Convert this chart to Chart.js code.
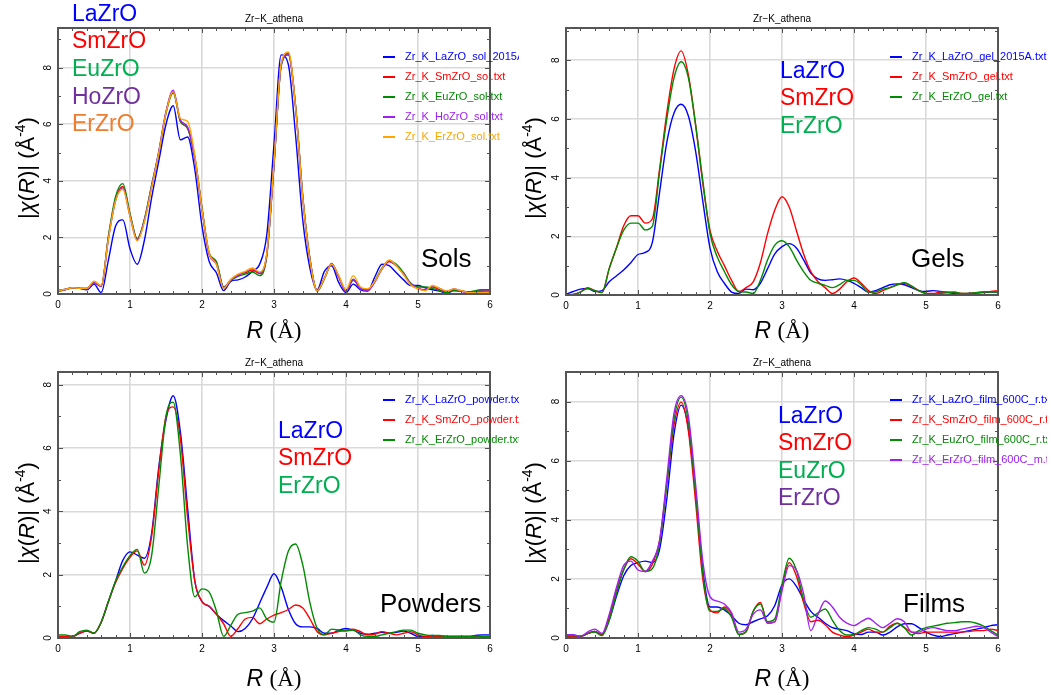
<!DOCTYPE html>
<html>
<head>
<meta charset="utf-8">
<script src="https://cdn.jsdelivr.net/npm/chart.js@4.4.1/dist/chart.umd.min.js"></script>
<style>
  html, body { margin:0; padding:0; background:#fff; }
  body { width:1051px; height:695px; position:relative; overflow:hidden; font-family:'Liberation Sans', Arial, sans-serif; }
  canvas { position:absolute; }
  .t { position:absolute; white-space:nowrap; line-height:1; }
  .big { font-size:23px; }
  .name { font-size:26px; color:#000; }
  .ttl { font-size:10px; color:#000; transform:translateX(-50%); }
  .xl { font-size:23px; color:#000; transform:translate(-50%,-50%); }
  .xl span { font-family:'Liberation Serif', 'Times New Roman', serif; }
  .yl { font-size:22px; color:#000; transform:translate(-50%,-50%) rotate(-90deg); }
  .yl sup { font-size:14px; vertical-align:9px; line-height:0; }
  .leg { position:absolute; overflow:hidden; }
  .leg .ln { position:absolute; width:12px; height:1.5px; }
  .leg .lt { position:absolute; font-size:11px; line-height:11px; white-space:nowrap; }
</style>
</head>
<body>
<canvas id="c1" width="525" height="345" style="left:0;top:0"></canvas>
<canvas id="c2" width="525" height="345" style="left:525px;top:0"></canvas>
<canvas id="c3" width="525" height="345" style="left:0;top:345px"></canvas>
<canvas id="c4" width="525" height="345" style="left:525px;top:345px"></canvas>

<!-- titles -->
<div class="t ttl" style="left:274px;top:14px">Zr−K_athena</div>
<div class="t ttl" style="left:782px;top:14px">Zr−K_athena</div>
<div class="t ttl" style="left:274px;top:358px">Zr−K_athena</div>
<div class="t ttl" style="left:782px;top:358px">Zr−K_athena</div>

<!-- axis titles -->
<div class="t xl" style="left:274px;top:330px"><i>R</i> <span>(Å)</span></div>
<div class="t xl" style="left:782px;top:330px"><i>R</i> <span>(Å)</span></div>
<div class="t xl" style="left:274px;top:678px"><i>R</i> <span>(Å)</span></div>
<div class="t xl" style="left:782px;top:678px"><i>R</i> <span>(Å)</span></div>
<div class="t yl" style="left:27px;top:168px">|<i>χ</i>(<i>R</i>)| (Å<sup>-4</sup>)</div>
<div class="t yl" style="left:534px;top:168px">|<i>χ</i>(<i>R</i>)| (Å<sup>-4</sup>)</div>
<div class="t yl" style="left:27px;top:513px">|<i>χ</i>(<i>R</i>)| (Å<sup>-4</sup>)</div>
<div class="t yl" style="left:534px;top:513px">|<i>χ</i>(<i>R</i>)| (Å<sup>-4</sup>)</div>

<!-- big sample labels -->
<div class="t big" style="left:72px;top:2px;color:#0000ff">LaZrO</div>
<div class="t big" style="left:72px;top:29px;color:#ff0000">SmZrO</div>
<div class="t big" style="left:72px;top:57px;color:#00b050">EuZrO</div>
<div class="t big" style="left:72px;top:85px;color:#7030a0">HoZrO</div>
<div class="t big" style="left:72px;top:112px;color:#ed7d31">ErZrO</div>
<div class="t name" style="left:421px;top:245px">Sols</div>

<div class="t big" style="left:780px;top:59px;color:#0000ff">LaZrO</div>
<div class="t big" style="left:780px;top:86px;color:#ff0000">SmZrO</div>
<div class="t big" style="left:780px;top:114px;color:#00b050">ErZrO</div>
<div class="t name" style="left:911px;top:245px">Gels</div>

<div class="t big" style="left:278px;top:419px;color:#0000ff">LaZrO</div>
<div class="t big" style="left:278px;top:446px;color:#ff0000">SmZrO</div>
<div class="t big" style="left:278px;top:474px;color:#00b050">ErZrO</div>
<div class="t name" style="left:380px;top:590px">Powders</div>

<div class="t big" style="left:778px;top:404px;color:#0000ff">LaZrO</div>
<div class="t big" style="left:778px;top:431px;color:#ff0000">SmZrO</div>
<div class="t big" style="left:778px;top:459px;color:#00b050">EuZrO</div>
<div class="t big" style="left:778px;top:486px;color:#7030a0">ErZrO</div>
<div class="t name" style="left:903px;top:590px">Films</div>

<!-- legends -->
<div class="leg" style="left:380px;top:45px;width:139px;height:105px">
  <div class="ln" style="left:3px;top:11px;background:#0000ff"></div><div class="lt" style="left:25px;top:6px;color:#0000ff">Zr_K_LaZrO_sol_2015A.txt</div>
  <div class="ln" style="left:3px;top:31px;background:#ff0000"></div><div class="lt" style="left:25px;top:26px;color:#ff0000">Zr_K_SmZrO_sol.txt</div>
  <div class="ln" style="left:3px;top:51px;background:#008b00"></div><div class="lt" style="left:25px;top:46px;color:#008b00">Zr_K_EuZrO_sol.txt</div>
  <div class="ln" style="left:3px;top:71px;background:#a020f0"></div><div class="lt" style="left:25px;top:66px;color:#a020f0">Zr_K_HoZrO_sol.txt</div>
  <div class="ln" style="left:3px;top:91px;background:#ffa500"></div><div class="lt" style="left:25px;top:86px;color:#ffa500">Zr_K_ErZrO_sol.txt</div>
</div>
<div class="leg" style="left:887px;top:45px;width:160px;height:65px">
  <div class="ln" style="left:3px;top:11px;background:#0000ff"></div><div class="lt" style="left:25px;top:6px;color:#0000ff">Zr_K_LaZrO_gel_2015A.txt</div>
  <div class="ln" style="left:3px;top:31px;background:#ff0000"></div><div class="lt" style="left:25px;top:26px;color:#ff0000">Zr_K_SmZrO_gel.txt</div>
  <div class="ln" style="left:3px;top:51px;background:#008b00"></div><div class="lt" style="left:25px;top:46px;color:#008b00">Zr_K_ErZrO_gel.txt</div>
</div>
<div class="leg" style="left:380px;top:388px;width:139px;height:65px">
  <div class="ln" style="left:3px;top:11px;background:#0000ff"></div><div class="lt" style="left:25px;top:6px;color:#0000ff">Zr_K_LaZrO_powder.txt</div>
  <div class="ln" style="left:3px;top:31px;background:#ff0000"></div><div class="lt" style="left:25px;top:26px;color:#ff0000">Zr_K_SmZrO_powder.txt</div>
  <div class="ln" style="left:3px;top:51px;background:#008b00"></div><div class="lt" style="left:25px;top:46px;color:#008b00">Zr_K_ErZrO_powder.txt</div>
</div>
<div class="leg" style="left:887px;top:388px;width:160px;height:85px">
  <div class="ln" style="left:3px;top:11px;background:#0000ff"></div><div class="lt" style="left:25px;top:6px;color:#0000ff">Zr_K_LaZrO_film_600C_r.txt</div>
  <div class="ln" style="left:3px;top:31px;background:#ff0000"></div><div class="lt" style="left:25px;top:26px;color:#ff0000">Zr_K_SmZrO_film_600C_r.txt</div>
  <div class="ln" style="left:3px;top:51px;background:#008b00"></div><div class="lt" style="left:25px;top:46px;color:#008b00">Zr_K_EuZrO_film_600C_r.txt</div>
  <div class="ln" style="left:3px;top:71px;background:#a020f0"></div><div class="lt" style="left:25px;top:66px;color:#a020f0">Zr_K_ErZrO_film_600C_m.txt</div>
</div>

<script>
// ---------- data ----------
const R = [0.0,0.1,0.2,0.3,0.4,0.5,0.6,0.7,0.8,0.9,1.0,1.1,1.2,1.3,1.4,1.5,1.6,1.7,1.8,1.9,2.0,2.1,2.2,2.3,2.4,2.5,2.6,2.7,2.8,2.9,3.0,3.1,3.2,3.3,3.4,3.5,3.6,3.7,3.8,3.9,4.0,4.1,4.2,4.3,4.4,4.5,4.6,4.7,4.8,4.9,5.0,5.1,5.2,5.3,5.4,5.5,5.6,5.7,5.8,5.9,6.0];
const xTicks = [0,1,2,3,4,5,6];
const yTicks = [0,2,4,6,8];

// Sols
const solLa = [0.10,0.15,0.22,0.20,0.15,0.35,0.05,1.20,2.40,2.62,
               1.60,1.05,1.90,3.40,4.70,6.00,6.65,5.45,5.55,4.40,
               2.40,1.15,0.75,0.12,0.45,0.50,0.60,0.80,1.05,2.10,
               5.30,8.45,8.10,5.60,2.60,0.90,0.15,0.80,1.00,0.40,
               0.05,0.35,0.15,0.10,0.60,1.05,1.00,0.75,0.50,0.30,
               0.30,0.22,0.15,0.10,0.02,0.12,0.10,0.05,0.10,0.15,
               0.15];
const solSm = [0.12,0.16,0.22,0.20,0.20,0.42,0.28,2.00,3.35,3.80,
               2.80,1.95,2.60,3.80,5.00,6.40,7.15,6.10,5.85,4.80,
               3.00,1.40,1.10,0.22,0.50,0.68,0.75,0.85,0.72,1.40,
               4.60,8.10,8.50,6.60,3.40,1.20,0.12,0.55,1.08,0.60,
               0.10,0.50,0.20,0.15,0.45,0.90,1.15,1.00,0.70,0.35,
               0.20,0.15,0.25,0.15,0.08,0.15,0.12,0.05,0.08,0.10,
               0.12];
const solEu = [0.12,0.16,0.22,0.20,0.20,0.40,0.28,2.05,3.45,3.90,
               2.85,1.95,2.65,3.85,5.00,6.40,7.10,6.10,5.85,4.85,
               3.05,1.45,1.15,0.25,0.48,0.62,0.70,0.78,0.65,1.35,
               4.55,8.05,8.45,6.65,3.45,1.25,0.10,0.55,1.05,0.62,
               0.12,0.48,0.22,0.12,0.45,0.92,1.18,1.05,0.75,0.38,
               0.25,0.25,0.20,0.12,0.05,0.12,0.10,0.08,0.12,0.15,
               0.15];
const solHo = [0.12,0.16,0.22,0.20,0.18,0.40,0.26,1.95,3.30,3.75,
               2.75,1.90,2.60,3.80,5.05,6.45,7.20,6.15,5.90,4.80,
               3.00,1.40,1.05,0.22,0.50,0.65,0.78,0.90,0.75,1.40,
               4.60,8.10,8.45,6.60,3.40,1.20,0.12,0.55,1.05,0.60,
               0.10,0.52,0.20,0.12,0.42,0.88,1.15,1.00,0.70,0.35,
               0.20,0.12,0.28,0.20,0.10,0.18,0.10,0.05,0.08,0.10,
               0.10];
const solEr = [0.12,0.16,0.22,0.20,0.20,0.45,0.30,1.95,3.30,3.70,
               2.75,1.88,2.55,3.75,5.00,6.40,7.15,6.20,6.10,4.90,
               3.00,1.45,1.05,0.20,0.52,0.70,0.80,0.92,0.78,1.45,
               4.65,8.15,8.55,6.60,3.40,1.20,0.12,0.55,1.05,0.65,
               0.15,0.65,0.25,0.18,0.45,0.90,1.20,1.00,0.68,0.32,
               0.18,0.12,0.30,0.20,0.10,0.18,0.12,0.05,0.05,0.05,
               0.05];

// Gels
const gelLa = [0.02,0.12,0.20,0.22,0.12,0.15,0.45,0.65,0.85,1.10,
               1.38,1.45,1.80,3.50,5.20,6.20,6.50,6.10,4.90,3.20,
               1.60,0.80,0.40,0.10,0.05,0.20,0.18,0.40,0.90,1.40,
               1.65,1.75,1.60,1.20,0.75,0.55,0.50,0.52,0.55,0.50,
               0.40,0.25,0.10,0.15,0.25,0.35,0.38,0.35,0.25,0.15,
               0.12,0.15,0.12,0.08,0.05,0.03,0.05,0.07,0.08,0.10,
               0.10];
const gelSm = [0.00,0.02,0.10,0.25,0.15,0.08,0.90,1.60,2.35,2.70,
               2.70,2.45,2.60,4.30,6.20,7.70,8.32,7.50,5.80,3.80,
               2.20,1.50,1.00,0.50,0.12,0.25,0.45,1.10,2.10,2.90,
               3.35,3.00,2.20,1.40,0.80,0.45,0.25,0.05,0.20,0.45,
               0.58,0.40,0.15,0.05,0.15,0.25,0.35,0.40,0.30,0.15,
               0.05,0.05,0.10,0.10,0.08,0.05,0.05,0.08,0.10,0.12,
               0.15];
const gelEr = [0.00,0.02,0.10,0.22,0.15,0.08,0.90,1.60,2.20,2.45,
               2.45,2.22,2.35,4.20,6.00,7.40,7.95,7.40,5.80,3.90,
               2.10,1.30,0.80,0.35,0.12,0.10,0.05,0.50,1.20,1.70,
               1.85,1.65,1.20,0.80,0.50,0.40,0.33,0.25,0.35,0.50,
               0.50,0.35,0.10,0.10,0.20,0.25,0.35,0.42,0.30,0.15,
               0.05,0.03,0.05,0.08,0.10,0.05,0.05,0.08,0.10,0.10,
               0.10];

// Powders
const powLa = [0.05,0.05,0.05,0.15,0.22,0.15,0.50,1.15,1.80,2.45,
               2.72,2.62,2.52,3.30,5.40,6.90,7.65,6.50,4.10,1.80,
               1.15,1.00,0.75,0.55,0.38,0.20,0.30,0.60,1.10,1.60,
               2.03,1.60,0.90,0.45,0.35,0.35,0.30,0.15,0.15,0.25,
               0.30,0.25,0.15,0.12,0.15,0.18,0.15,0.18,0.22,0.15,
               0.05,0.05,0.08,0.05,0.05,0.05,0.05,0.05,0.08,0.10,
               0.10];
const powSm = [0.05,0.05,0.05,0.15,0.22,0.15,0.50,1.15,1.75,2.20,
               2.55,2.75,2.30,3.20,5.30,7.00,7.30,6.30,3.80,1.80,
               1.15,1.00,0.75,0.45,0.05,0.30,0.60,0.65,0.45,0.60,
               0.72,0.80,0.90,1.04,0.95,0.60,0.20,0.10,0.15,0.20,
               0.25,0.28,0.20,0.10,0.12,0.20,0.15,0.10,0.15,0.20,
               0.10,0.05,0.05,0.05,0.05,0.05,0.05,0.05,0.05,0.05,
               0.05];
const powEr = [0.10,0.10,0.05,0.20,0.25,0.15,0.50,1.15,1.80,2.25,
               2.60,2.80,2.05,2.60,4.80,7.00,7.45,5.80,2.90,1.30,
               1.55,1.45,0.85,0.05,0.40,0.75,0.80,0.85,0.95,0.60,
               0.50,1.80,2.75,2.97,2.30,1.10,0.30,0.10,0.28,0.25,
               0.22,0.25,0.10,0.05,0.05,0.10,0.15,0.20,0.25,0.25,
               0.15,0.10,0.08,0.08,0.05,0.05,0.05,0.05,0.05,0.05,
               0.05];

// Films
const filmLa = [0.10,0.10,0.05,0.15,0.22,0.12,0.60,1.40,2.10,2.45,
                2.55,2.60,2.55,3.00,4.70,6.90,7.88,7.10,4.90,2.30,
                1.05,1.05,0.95,0.75,0.50,0.45,0.55,0.65,0.75,1.10,
                1.80,2.00,1.75,1.30,0.90,0.70,0.50,0.35,0.30,0.25,
                0.15,0.12,0.20,0.20,0.10,0.20,0.38,0.48,0.48,0.35,
                0.20,0.10,0.05,0.10,0.15,0.20,0.25,0.30,0.35,0.42,
                0.45];
const filmSm = [0.05,0.05,0.05,0.15,0.22,0.10,0.70,1.60,2.30,2.68,
                2.50,2.25,2.50,3.30,5.20,7.20,7.98,7.00,4.60,2.00,
                0.95,0.85,1.05,0.80,0.12,0.20,0.90,1.20,0.50,0.55,
                1.70,2.55,2.10,1.20,0.55,0.60,0.45,0.20,0.10,0.05,
                0.10,0.20,0.30,0.20,0.20,0.40,0.50,0.35,0.20,0.15,
                0.20,0.20,0.20,0.20,0.20,0.20,0.22,0.25,0.25,0.30,
                0.25];
const filmEu = [0.02,0.02,0.05,0.15,0.20,0.08,0.60,1.50,2.30,2.75,
                2.60,2.25,2.35,3.20,5.20,7.40,8.15,7.30,4.90,2.20,
                0.90,0.90,1.00,0.70,0.12,0.22,0.90,1.15,0.55,0.65,
                1.80,2.70,2.30,1.30,0.70,0.85,0.98,0.60,0.25,0.10,
                0.12,0.25,0.35,0.30,0.20,0.35,0.50,0.35,0.10,0.25,
                0.35,0.40,0.45,0.50,0.52,0.55,0.55,0.50,0.40,0.25,
                0.10];
const filmEr = [0.10,0.10,0.05,0.20,0.30,0.15,0.80,1.70,2.45,2.60,
                2.30,2.25,2.60,3.30,5.40,7.60,8.20,7.50,5.20,2.60,
                1.40,1.25,1.15,0.85,0.20,0.30,0.80,0.95,0.50,0.55,
                1.60,2.45,2.30,1.50,0.25,0.80,1.25,1.05,0.70,0.50,
                0.42,0.55,0.67,0.50,0.35,0.50,0.65,0.55,0.20,0.20,
                0.30,0.35,0.30,0.25,0.25,0.30,0.35,0.40,0.35,0.20,
                0.05];

// ---------- styling ----------
const C = { blue:'#0000ff', red:'#ff0000', green:'#008b00', purple:'#a020f0', orange:'#ffa500' };
const FONT = "'Liberation Sans', Arial, sans-serif";

const frameTicks = {
  id: 'frameTicks',
  afterDatasetsDraw(chart) {
    const { ctx, chartArea: a, scales: { x, y } } = chart;
    ctx.save();
    ctx.strokeStyle = '#505050';
    ctx.lineWidth = 1;
    ctx.beginPath();
    for (let i = 0; i <= 30; i++) {
      const px = Math.round(x.getPixelForValue(i * 0.2)) + 0.5;
      const len = (i % 5 === 0) ? 5 : 3;
      ctx.moveTo(px, a.bottom); ctx.lineTo(px, a.bottom - len);
      ctx.moveTo(px, a.top); ctx.lineTo(px, a.top + len);
    }
    for (let v = 0; v <= y.max; v += 1) {
      const py = Math.round(y.getPixelForValue(v)) + 0.5;
      const len = (v % 2 === 0) ? 5 : 3;
      ctx.moveTo(a.left, py); ctx.lineTo(a.left + len, py);
      ctx.moveTo(a.right, py); ctx.lineTo(a.right - len, py);
    }
    ctx.stroke();
    ctx.lineWidth = 2;
    ctx.strokeStyle = '#555555';
    ctx.strokeRect(a.left, a.top, a.right - a.left, a.bottom - a.top);
    ctx.restore();
  }
};

function series(values, color, idx, n) {
  return {
    data: R.map((r, i) => ({ x: r, y: values[i] })),
    borderColor: color,
    borderWidth: 1.4,
    pointRadius: 0,
    fill: false,
    cubicInterpolationMode: 'monotone',
    order: n - idx
  };
}

function makeChart(id, list, ymax, pad) {
  const n = list.length;
  const datasets = list.map((s, i) => series(s[0], s[1], i, n));
  return new Chart(document.getElementById(id), {
    type: 'line',
    data: { datasets },
    options: {
      responsive: false,
      animation: false,
      devicePixelRatio: 1,
      layout: { padding: pad },
      plugins: { legend: { display: false }, tooltip: { enabled: false }, title: { display: false } },
      scales: {
        x: {
          type: 'linear', min: 0, max: 6,
          afterFit: s => { s.height = 22; s.paddingLeft = 0; s.paddingRight = 0; },
          afterBuildTicks: s => { s.ticks = xTicks.map(v => ({ value: v })); },
          ticks: { padding: 5, maxRotation: 0, minRotation: 0, autoSkip: false, color: '#000', font: { family: FONT, size: 10 } },
          grid: { color: '#d9d9d9', lineWidth: 1.6, drawTicks: false },
          border: { display: false }
        },
        y: {
          type: 'linear', min: 0, max: ymax,
          afterFit: s => { s.width = 20; s.paddingTop = 0; s.paddingBottom = 0; },
          afterBuildTicks: s => { s.ticks = yTicks.map(v => ({ value: v })); },
          ticks: { minRotation: 90, maxRotation: 90, crossAlign: 'center', padding: 7, color: '#000', font: { family: FONT, size: 10 } },
          grid: { color: '#d9d9d9', lineWidth: 1.6, drawTicks: false },
          border: { display: false }
        }
      }
    },
    plugins: [frameTicks]
  });
}

makeChart('c1', [[solLa, C.blue], [solSm, C.red], [solEu, C.green], [solHo, C.purple], [solEr, C.orange]],
  9.4, { left: 38, right: 35, top: 28, bottom: 29 });
makeChart('c2', [[gelLa, C.blue], [gelSm, C.red], [gelEr, C.green]],
  9.1, { left: 21, right: 52, top: 28, bottom: 28 });
makeChart('c3', [[powLa, C.blue], [powSm, C.red], [powEr, C.green]],
  8.4, { left: 38, right: 35, top: 27, bottom: 30 });
makeChart('c4', [[filmLa, C.blue], [filmSm, C.red], [filmEu, C.green], [filmEr, C.purple]],
  9.0, { left: 21, right: 52, top: 27, bottom: 30 });
</script>
</body>
</html>
